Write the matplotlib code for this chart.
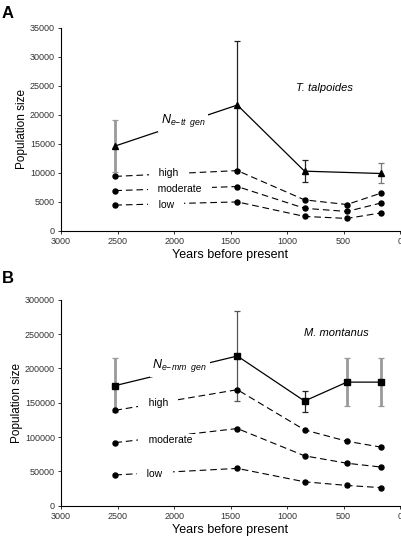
import matplotlib
matplotlib.use("Agg")
import matplotlib.pyplot as plt

plt.rcParams['font.family'] = ['Liberation Sans', 'DejaVu Sans']
plt.rcParams['mathtext.fontset'] = 'custom'
plt.rcParams['mathtext.it'] = 'Liberation Sans:italic'
plt.rcParams['mathtext.rm'] = 'Liberation Sans'

# years before present for each sample
years = [2520, 1440, 845, 470, 170]

# panel A - T. talpoides
ne_a = [14650, 21700, 10300, None, 9900]
ne_a_hi = [19150, 32700, 12150, None, 11700]
ne_a_lo = [10200, 10500, 8350, None, 8300]
ne_a_col = ['#999999', '#222222', '#222222', None, '#777777']
high_a = [9400, 10400, 5350, 4550, 6500]
mod_a = [6950, 7650, 3900, 3350, 4800]
low_a = [4450, 5000, 2500, 2150, 3100]

# panel B - M. montanus
ne_b = [175000, 218000, 152500, 180000, 180000]
ne_b_hi = [215000, 284000, 166500, 215000, 215000]
ne_b_lo = [137000, 153000, 137000, 145000, 145000]
ne_b_col = ['#999999', '#555555', '#222222', '#999999', '#999999']
high_b = [139000, 169000, 110500, 94000, 85500]
mod_b = [92000, 112500, 72800, 62000, 56500]
low_b = [45000, 54500, 35000, 29700, 26500]

fig = plt.figure(figsize=(4.02, 5.37), dpi=100)
axA = fig.add_axes([0.152, 0.570, 0.843, 0.378])
axB = fig.add_axes([0.152, 0.058, 0.843, 0.384])

def draw(ax, ne, hi, lo, cols, marker, msize, highs, mods, lows):
    xs = [x for x, v in zip(years, ne) if v is not None]
    vs = [v for v in ne if v is not None]
    for x, v, h, l, c in zip(years, ne, hi, lo, cols):
        if v is None:
            continue
        lw = 2.0 if c == '#999999' else 0.9
        ax.errorbar([x], [v], yerr=[[v - l], [h - v]], fmt='none', ecolor=c,
                    elinewidth=lw, capsize=2.5, capthick=0.9, zorder=2)
    ax.plot(xs, vs, '-', color='black', lw=0.9, marker=marker, ms=msize,
            mfc='black', mec='black', zorder=4)
    for s in (highs, mods, lows):
        ax.plot(years, s, '--', color='black', lw=0.8, dashes=(6, 3.5),
                marker='o', ms=3.6, zorder=4)
    ax.set_xlim(3000, 0)
    ax.set_xticks([3000, 2500, 2000, 1500, 1000, 500, 0])
    ax.spines['top'].set_visible(False)
    ax.spines['right'].set_visible(False)
    ax.tick_params(labelsize=6.5, length=2.5, width=0.7, pad=2, colors='#333333')
    ax.set_xlabel('Years before present', fontsize=9, labelpad=2)
    ax.set_ylabel('Population size', fontsize=8.5, labelpad=1)

box = dict(facecolor='white', edgecolor='none', pad=1)

def label(ax, x, y, s):
    ax.text(x, y, '   ' + s + '   ', fontsize=7.5, ha='center', va='center',
            bbox=box, zorder=5)

draw(axA, ne_a, ne_a_hi, ne_a_lo, ne_a_col, '^', 5, high_a, mod_a, low_a)
axA.set_ylim(0, 35000)
axA.set_yticks(range(0, 35001, 5000))
axA.text(1920, 19000, r'$N_{e\mathrm{-}tt\ \ gen}$', fontsize=9, ha='center',
         va='center', bbox=dict(facecolor='white', edgecolor='none', pad=2), zorder=5)
label(axA, 2050, 9950, 'high')
label(axA, 1950, 7150, 'moderate')
label(axA, 2070, 4500, 'low')
axA.text(670, 24700, 'T. talpoides', fontsize=8, style='italic', ha='center', va='center')

draw(axB, ne_b, ne_b_hi, ne_b_lo, ne_b_col, 's', 4.8, high_b, mod_b, low_b)
axB.set_ylim(0, 300000)
axB.set_yticks(range(0, 300001, 50000))
axB.text(1950, 204000, r'$N_{e\mathrm{-}mm\ \ gen}$', fontsize=9, ha='center',
         va='center', bbox=dict(facecolor='white', edgecolor='none', pad=2), zorder=5)
label(axB, 2140, 149000, 'high')
label(axB, 2035, 95500, 'moderate')
label(axB, 2170, 47000, 'low')
axB.text(560, 251000, 'M. montanus', fontsize=8, style='italic', ha='center', va='center')

fig.text(0.005, 0.975, 'A', fontsize=12, fontweight='bold', va='center')
fig.text(0.005, 0.482, 'B', fontsize=12, fontweight='bold', va='center')

fig.savefig('out.png', dpi=100)
